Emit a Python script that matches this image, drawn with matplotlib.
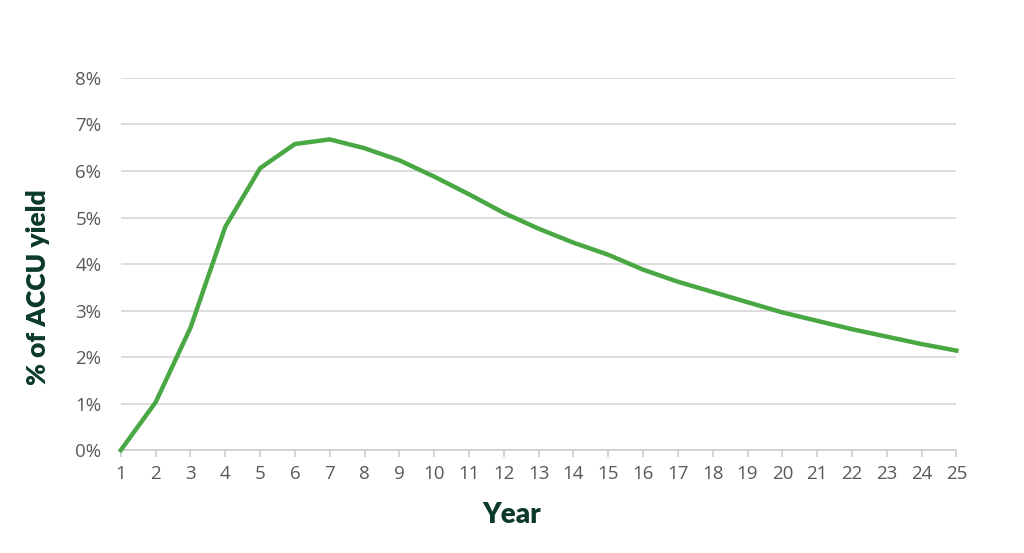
import matplotlib.pyplot as plt

years = list(range(1, 26))
yield_pct = [0.0, 1.03, 2.63, 4.80, 6.06, 6.58, 6.68, 6.49, 6.23, 5.88,
             5.50, 5.10, 4.76, 4.46, 4.20, 3.88, 3.62, 3.40, 3.18, 2.96,
             2.78, 2.60, 2.44, 2.28, 2.14]
y_ticks = [0, 1, 2, 3, 4, 5, 6, 7, 8]
y_tick_labels = [f'{t}%' for t in y_ticks]

grey = '#595959'
dark_green = '#0b3a2a'

fig = plt.figure(figsize=(10.24, 5.53), dpi=100)
ax = fig.add_axes([0.118, 0.186, 0.816, 0.673])

ax.plot(years, yield_pct, color='#4aa844', linewidth=3.2, solid_joinstyle='round',
        clip_on=False, zorder=3)

ax.set_xlim(1, 25)
ax.set_ylim(0, 8)
ax.set_xticks(years)
ax.set_yticks(y_ticks)
ax.set_yticklabels(y_tick_labels)

ax.grid(axis='y', color='#d9d9d9', linewidth=1.3)
ax.set_axisbelow(True)
for side in ['top', 'right', 'left']:
    ax.spines[side].set_visible(False)
ax.spines['bottom'].set_color('#d0d0d0')
ax.spines['bottom'].set_linewidth(1.3)

ax.tick_params(axis='x', colors='#d0d0d0', labelcolor=grey, length=5, width=1.3,
               labelsize=13.5, pad=6)
ax.tick_params(axis='y', length=0, labelcolor=grey, labelsize=13.5, pad=14)
for lab in ax.get_xticklabels() + ax.get_yticklabels():
    lab.set_family('Open Sans')

ax.set_xlabel('Year', fontsize=20, fontweight='heavy', family='Lato',
              color=dark_green)
ax.set_ylabel('% of ACCU yield', fontsize=19, fontweight='heavy', family='Lato',
              color=dark_green)
ax.xaxis.label.set_va('center')
ax.yaxis.label.set_va('center')
ax.xaxis.set_label_coords(0.468, -0.175)
ax.yaxis.set_label_coords(-0.099, 0.438)

fig.savefig('out.png', dpi=100, facecolor='white')
